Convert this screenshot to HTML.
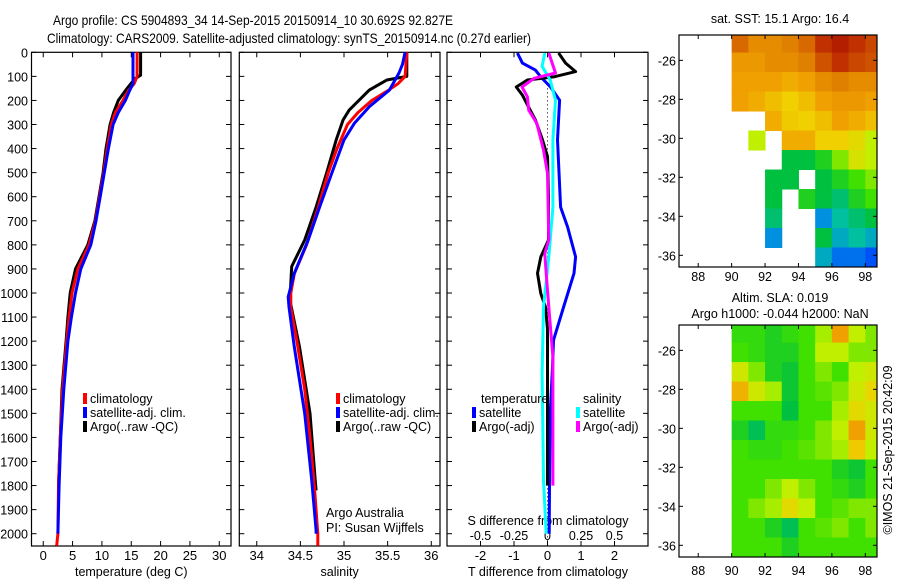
<!DOCTYPE html>
<html><head><meta charset="utf-8"><style>
html,body{margin:0;padding:0;background:#fff;}
svg{display:block;font-family:"Liberation Sans",Arial,sans-serif;}
</style></head><body>
<svg id="chart" width="900" height="580" viewBox="0 0 900 580" xmlns="http://www.w3.org/2000/svg">
<text x="53" y="25" font-size="14" textLength="400" lengthAdjust="spacingAndGlyphs">Argo profile: CS 5904893_34 14-Sep-2015 20150914_10 30.692S 92.827E</text>
<text x="47" y="43" font-size="14" textLength="484" lengthAdjust="spacingAndGlyphs">Climatology: CARS2009. Satellite-adjusted climatology: synTS_20150914.nc (0.27d earlier)</text>
<g id="g"></g>
</svg>
<script>
// ---------- DATA ----------
const depthTicks=[0,100,200,300,400,500,600,700,800,900,1000,1100,1200,1300,1400,1500,1600,1700,1800,1900,2000];
const tTicks=[0,5,10,15,20,25,30];
const sTicks=[34,34.5,35,35.5,36];
const dTTicks=[-2,-1,0,1,2];
const dSTicks=[-0.5,-0.25,0,0.25,0.5];
const dSTickLabels=["-0.5","-0.25","0","0.25","0.5"];

const climTdepth=[0,100,130,160,200,250,300,400,500,600,700,800,900,1000,1100,1200,1400,1600,1800,2000,2050];
const climT=[16.0,16.0,15.5,14.5,13.6,12.3,11.6,10.9,10.3,9.6,8.9,7.8,5.9,4.9,4.4,4.0,3.3,2.9,2.6,2.5,2.3];
const satTdepth=[0,130,160,200,250,300,400,500,600,700,800,900,1000,1100,1200,1400,1600,1800,2000];
const satT=[15.3,15.3,14.7,14.0,12.8,11.9,11.1,10.4,9.7,9.0,8.1,6.4,5.5,4.8,4.2,3.5,3.0,2.7,2.5];
const argoTdepth=[0,95,110,150,200,250,300,400,500,600,700,800,900,1000,1100,1200,1400,1600,1800];
const argoT=[16.6,16.6,15.6,14.3,12.8,12.0,11.4,10.7,10.2,9.5,8.8,7.6,5.5,4.6,4.2,3.9,3.2,2.9,2.6];

const climSdepth=[0,100,130,160,200,250,300,400,500,650,800,920,1000,1060,1200,1400,1600,1800,2000,2050];
const climS=[35.72,35.70,35.62,35.50,35.32,35.16,35.04,34.92,34.82,34.70,34.57,34.43,34.39,34.39,34.46,34.55,34.61,34.66,34.70,34.70];
const satSdepth=[0,50,86,157,226,294,364,502,643,780,918,1016,1058,1224,1500,1777,1985,2000];
const satS=[35.70,35.67,35.63,35.52,35.29,35.12,35.00,34.86,34.72,34.59,34.43,34.36,34.37,34.43,34.55,34.63,34.68,34.68];
const argoSdepth=[0,100,115,157,240,281,364,502,643,780,890,1030,1224,1500,1777,1820];
const argoS=[35.72,35.72,35.49,35.29,35.06,34.99,34.91,34.80,34.68,34.55,34.40,34.38,34.49,34.61,34.67,34.68];

const dTsatDepth=[3,45,74,102,144,199,364,643,726,850,918,1058,1196,1307,1500,1800,2000];
const dTsat=[-0.9,-0.75,-0.36,-0.2,0.09,0.36,0.3,0.39,0.6,0.84,0.79,0.48,0.18,0.15,0.08,0.06,0.05];
const dTargoDepth=[3,45,80,102,115,144,178,226,281,364,433,600,780,850,918,1002,1058,1150,1400,1800];
const dTargo=[0.33,0.54,0.84,0.18,-0.6,-0.93,-0.75,-0.57,-0.36,-0.15,0,0.03,0.03,-0.2,-0.3,-0.2,-0.06,0,0,0];
const dSsatDepth=[3,58,115,199,364,643,850,1058,1335,1777,2000];
const dSsat=[-0.02,-0.04,0.02,0.06,0.04,0.04,0.01,-0.03,-0.04,-0.03,-0.01];
const dSargoDepth=[3,86,108,144,185,240,295,406,502,780,836,918,1058,1266,1800];
const dSargo=[0.01,0.06,-0.1,-0.19,-0.15,-0.14,-0.08,-0.03,0,0.01,-0.02,-0.01,0.01,0.04,0.04];

const lonTicks=[88,90,92,94,96,98];
const latTicks=[-26,-28,-30,-32,-34,-36];
const gridLon0=90, gridLat0=-24.6;
const sstGrid=[
[0.9,0.85,0.85,0.88,0.9,0.95,0.97,0.95,0.93],
[0.82,0.82,0.85,0.85,0.88,0.92,0.95,0.93,0.92],
[0.8,0.8,0.8,0.78,0.8,0.85,0.88,0.85,0.85],
[0.8,0.78,0.75,0.72,0.75,0.8,0.82,0.82,0.8],
[null,null,0.78,0.73,0.72,0.75,0.8,0.78,0.75],
[null,0.65,null,0.78,0.78,0.72,0.72,0.7,0.65],
[null,null,null,0.45,0.45,0.5,0.6,0.68,0.65],
[null,null,0.45,0.45,null,0.45,0.5,0.55,0.6],
[null,null,0.45,null,0.5,0.45,0.4,0.5,0.55],
[null,null,0.4,null,null,0.25,0.35,0.4,0.45],
[null,null,0.25,null,null,0.45,0.3,0.35,0.3],
[null,null,null,null,null,0.3,0.2,0.2,0.15]];
const slaGrid=[
[0.48,0.48,0.45,0.48,0.5,0.58,0.75,0.6,0.55],
[0.5,0.48,0.45,0.45,0.5,0.6,0.6,0.55,0.55],
[0.62,0.55,0.45,0.42,0.5,0.55,0.5,0.6,0.62],
[0.72,0.62,0.58,0.42,0.5,0.52,0.55,0.62,0.66],
[0.5,0.5,0.5,0.4,0.5,0.5,0.58,0.65,0.62],
[0.45,0.38,0.48,0.48,0.5,0.55,0.6,0.75,0.62],
[0.5,0.48,0.48,0.5,0.52,0.55,0.58,0.68,0.6],
[0.5,0.5,0.5,0.5,0.5,0.5,0.45,0.42,0.5],
[0.5,0.5,0.55,0.6,0.55,0.5,0.48,0.45,0.5],
[0.5,0.55,0.58,0.65,0.6,0.5,0.52,0.55,0.55],
[0.5,0.5,0.45,0.38,0.5,0.52,0.55,0.5,0.55],
[0.5,0.5,0.5,0.45,0.5,0.5,0.5,0.5,0.5]];

// ---------- HELPERS ----------
const NS="http://www.w3.org/2000/svg";
const G=document.getElementById('g');
function mk(tag,attrs,parent){const e=document.createElementNS(NS,tag);for(const k in attrs)e.setAttribute(k,attrs[k]);(parent||G).appendChild(e);return e;}
function txt(x,y,s,size,anchor,parent){const e=mk('text',{x:x,y:y,'font-size':size,'text-anchor':anchor||'start'},parent);e.textContent=s;return e;}
const TOP=52.3,BOT=546,PX100=24.07;
function yD(d){return TOP+d*PX100/100;}
function panel(x0,x1,min,max){return v=>x0+(v-min)/(max-min)*(x1-x0);}
const P1={x0:31.5,x1:231},P2={x0:239.3,x1:440},P3={x0:447,x1:648};
const xT=panel(P1.x0,P1.x1,-2,32);
const xS=panel(P2.x0,P2.x1,33.8,36.1);
const xDT=panel(P3.x0,P3.x1,-3,3);
const xDS=panel(P3.x0,P3.x1,-0.75,0.75);

function frame(P,name){
  const r=mk('rect',{x:P.x0,y:TOP,width:P.x1-P.x0,height:BOT-TOP,fill:'none',stroke:'#000','stroke-width':1.2});
  
  
  depthTicks.forEach(d=>{
    mk('line',{x1:P.x0,x2:P.x0+5,y1:yD(d),y2:yD(d),stroke:'#000'});
    mk('line',{x1:P.x1,x2:P.x1-5,y1:yD(d),y2:yD(d),stroke:'#000'});
  });
}
function line(xf,vals,depths,color,name,w){
  let d='';
  for(let i=0;i<vals.length;i++){d+=(i?'L':'M')+xf(vals[i]).toFixed(1)+' '+yD(depths[i]).toFixed(1);}
  const p=mk('path',{d:d,fill:'none',stroke:color,'stroke-width':w||3,'stroke-linejoin':'round'});
  
  
}
function xticks(P,xf,ticks,labels,ly,size){
  ticks.forEach((t,i)=>{
    const x=xf(t);
    mk('line',{x1:x,x2:x,y1:TOP,y2:TOP+5,stroke:'#000'});
    mk('line',{x1:x,x2:x,y1:BOT,y2:BOT-5,stroke:'#000'});
    if(ly){const e=txt(x,ly,labels[i],size||13,'middle');
      
      }
  });
}
function legendEntry(x,y,color,label){
  const m=mk('rect',{x:x,y:y-10,width:4,height:11,fill:color});
  
  
  const t=txt(x+7,y,label,12.5);
  
  
}

// ---------- PANEL 1 ----------
frame(P1,'temperature-panel');
depthTicks.forEach(d=>{const e=txt(28,yD(d)+5,String(d),12.5,'end');
  
  });
xticks(P1,xT,tTicks,tTicks.map(String),560);
txt((P1.x0+P1.x1)/2,576,'temperature (deg C)',12.5,'middle');
line(xT,argoT,argoTdepth,'#000','argo-temperature-line');
line(xT,climT,climTdepth,'#f00','clim-temperature-line');
line(xT,satT,satTdepth,'#00f','sat-temperature-line');
legendEntry(83,403,'#f00','climatology');
legendEntry(83,417,'#00f','satellite-adj. clim.');
legendEntry(83,431,'#000','Argo(..raw -QC)');

// ---------- PANEL 2 ----------
frame(P2,'salinity-panel');
xticks(P2,xS,sTicks,sTicks.map(String),560);
txt((P2.x0+P2.x1)/2,576,'salinity',12.5,'middle');
line(xS,argoS,argoSdepth,'#000','argo-salinity-line');
line(xS,climS,climSdepth,'#f00','clim-salinity-line');
line(xS,satS,satSdepth,'#00f','sat-salinity-line');
legendEntry(336,403,'#f00','climatology');
legendEntry(336,417,'#00f','satellite-adj. clim.');
legendEntry(336,431,'#000','Argo(..raw -QC)');
txt(326,517,'Argo Australia',12.5);
txt(326,532,'PI: Susan Wijffels',12.5);

// ---------- PANEL 3 ----------
frame(P3,'difference-panel');
xticks(P3,xDT,dTTicks,dTTicks.map(String),560);
dSTicks.forEach((t,i)=>{const e=txt(xDS(t),540,dSTickLabels[i],12.5,'middle');
  
  });
txt(548,525,'S difference from climatology',12.5,'middle');
txt(548,576,'T difference from climatology',12.5,'middle');
mk('line',{x1:xDT(0),x2:xDT(0),y1:yD(150),y2:BOT,stroke:'#000','stroke-dasharray':'1 3'});
line(xDT,dTsat,dTsatDepth,'#00f','sat-temp-diff-line');
line(xDT,dTargo,dTargoDepth,'#000','argo-temp-diff-line');
line(xDS,dSsat,dSsatDepth,'#0ff','sat-sal-diff-line');
line(xDS,dSargo,dSargoDepth,'#f0f','argo-sal-diff-line');
txt(481,403,'temperature',12.5);
txt(583,403,'salinity',12.5);
legendEntry(472,417,'#00f','satellite');
legendEntry(472,431,'#000','Argo(-adj)');
legendEntry(576,417,'#0ff','satellite');
legendEntry(576,431,'#f0f','Argo(-adj)');

// ---------- MAPS ----------
const cmapStops=[[0,[0,0,128]],[0.12,[0,64,255]],[0.25,[0,144,224]],[0.35,[0,192,160]],[0.45,[0,192,64]],[0.55,[64,224,0]],[0.65,[192,240,0]],[0.72,[240,208,0]],[0.8,[240,160,0]],[0.88,[224,128,0]],[0.95,[192,48,0]],[1,[160,0,0]]];
function cmap(v){v=Math.max(0,Math.min(1,v));for(let i=1;i<cmapStops.length;i++){if(v<=cmapStops[i][0]){const a=cmapStops[i-1],b=cmapStops[i];const f=(v-a[0])/(b[0]-a[0]);const c=a[1].map((q,k)=>Math.round(q+(b[1][k]-q)*f));return 'rgb('+c.join(',')+')';}}return 'rgb(160,0,0)';}
function drawMap(y0,y1,grid,name,labelY,shift){
  const X0=679,X1=877;
  const xL=panel(X0,X1,86.85,98.7);
  const yL=v=>y0+(-24.7-v)/(-24.7+36.6)*(y1-y0);
  const gm=mk('g',{});
  
  
  const cp=mk('clipPath',{id:'cp'+name});
  mk('rect',{x:X0,y:y0,width:X1-X0,height:y1-y0},cp);
  const cells=mk('g',{'clip-path':'url(#cp'+name+')'},gm);
  grid.forEach((row,r)=>row.forEach((v,c)=>{
    if(v===null)return;
    const x=xL(gridLon0+c),y=yL(gridLat0-r);
    const rc=mk('rect',{x:x,y:y,width:xL(gridLon0+c+1)-x+0.5,height:yL(gridLat0-r-1)-y+0.5,fill:cmap(v+shift)},cells);
    
    
  }));
  mk('rect',{x:X0,y:y0,width:X1-X0,height:y1-y0,fill:'none',stroke:'#000','stroke-width':1.2},gm);
  lonTicks.forEach(t=>{const x=xL(t);
    mk('line',{x1:x,x2:x,y1:y0,y2:y0+4,stroke:'#000'},gm);
    mk('line',{x1:x,x2:x,y1:y1,y2:y1-4,stroke:'#000'},gm);
    const e=txt(x,labelY,String(t),12.5,'middle',gm);
    
    });
  latTicks.forEach(t=>{const y=yL(t);
    mk('line',{x1:X0,x2:X0+4,y1:y,y2:y,stroke:'#000'},gm);
    mk('line',{x1:X1,x2:X1-4,y1:y,y2:y,stroke:'#000'},gm);
    const e=txt(676,y+5,String(t),12.5,'end',gm);
    
    });
}
drawMap(35,267,sstGrid,'sst-map',281,0);
drawMap(325,557,slaGrid,'sla-map',575,0.05);
txt(780,23,'sat. SST: 15.1 Argo: 16.4',12.5,'middle');
txt(780,302,'Altim. SLA: 0.019',12.5,'middle');
txt(780,318,'Argo h1000: -0.044 h2000: NaN',12.5,'middle');
const ts=txt(0,0,'©IMOS 21-Sep-2015 20:42:09',12.5,'middle');
ts.setAttribute('transform','translate(892,450) rotate(-90)');


</script>
</body></html>
